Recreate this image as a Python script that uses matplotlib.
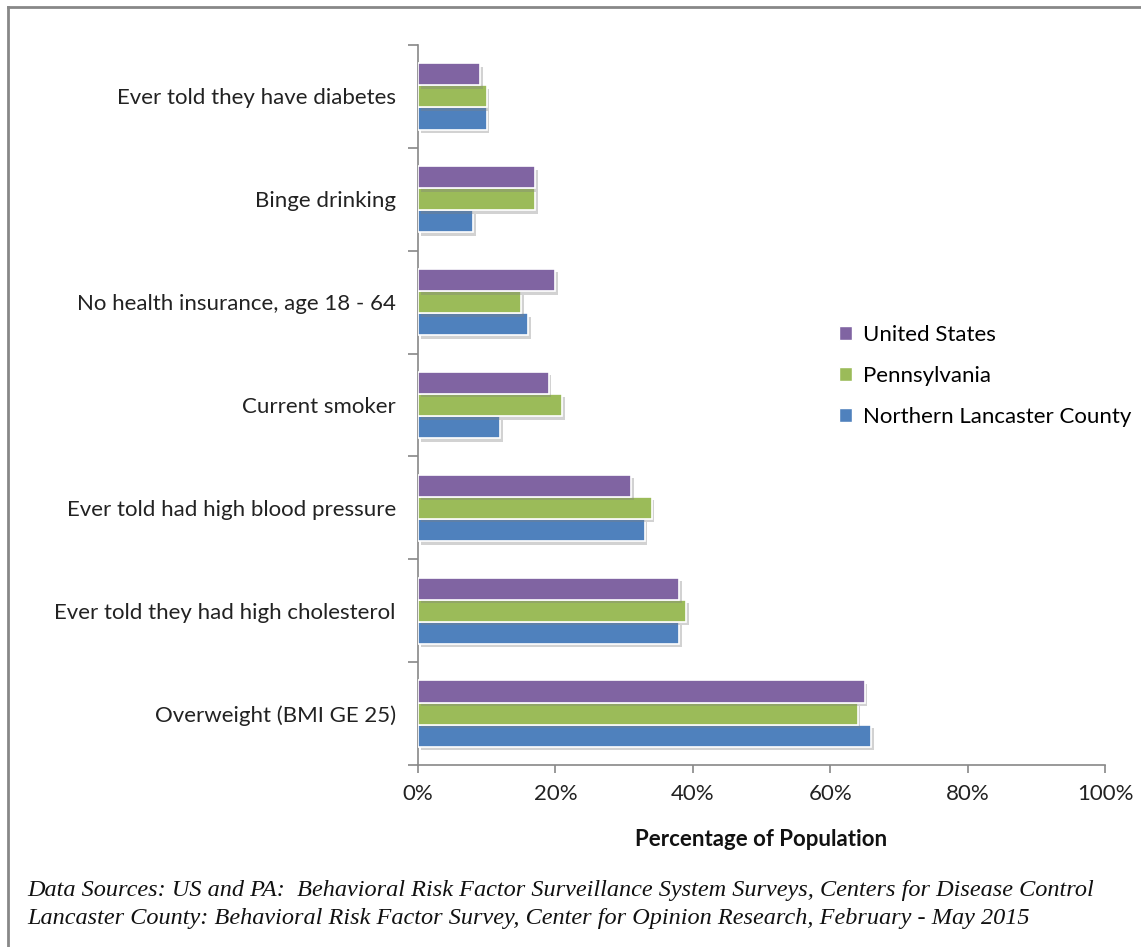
import matplotlib
matplotlib.use("Agg")
import matplotlib.pyplot as plt
import matplotlib.patheffects as pe
from matplotlib.lines import Line2D
from matplotlib.patches import Patch
import numpy as np

categories = ["Overweight (BMI GE 25)", "Ever told they had high cholesterol",
              "Ever told had high blood pressure", "Current smoker",
              "No health insurance, age 18 - 64", "Binge drinking",
              "Ever told they have diabetes"]
series_names = ["Northern Lancaster County", "Pennsylvania", "United States"]
nlc = [66, 38, 33, 12, 16, 8, 10]
pa = [64, 39, 34, 21, 15, 17, 10]
us = [65, 38, 31, 19, 20, 17, 9]
colors = ["#4f81bd", "#9bbb59", "#8064a2"]
xticks = [0, 20, 40, 60, 80, 100]

W, H = 1141, 947
fig = plt.figure(figsize=(W / 100, H / 100), dpi=100)
ax = fig.add_axes([418 / W, 1 - 765 / H, (1105 - 418) / W, (765 - 45) / H])

y = np.arange(len(categories))
bh = 0.215
shadow = [pe.SimplePatchShadow(offset=(2, -2.5), shadow_rgbFace="#7f7f7f", alpha=0.35), pe.Normal()]
for i, (vals, c) in enumerate(zip([nlc, pa, us], colors)):
    bars = ax.barh(y + (i - 1) * bh, vals, height=bh, color=c, edgecolor="white",
                   linewidth=1.2, zorder=3)
    for b in bars:
        b.set_path_effects(shadow)

ax.set_xlim(0, 100)
ax.set_ylim(-0.5, len(categories) - 0.5)
ax.set_xticks(xticks)
ax.set_xticklabels([f"{v}%" for v in xticks], fontsize=16, family="Lato", color="#222222")
ax.set_yticks(y)
ax.set_yticklabels(categories, fontsize=16, family="Lato", color="#222222")
ax.set_yticks(np.arange(len(categories) + 1) - 0.5, minor=True)
ax.tick_params(axis="y", which="major", length=0, pad=16)
ax.tick_params(axis="y", which="minor", length=7, color="#888888", width=1.2)
ax.tick_params(axis="x", which="major", length=6, color="#888888", width=1.2, pad=8)
for s in ["top", "right"]:
    ax.spines[s].set_visible(False)
for s in ["left", "bottom"]:
    ax.spines[s].set_color("#888888")
    ax.spines[s].set_linewidth(1.2)

ax.set_xlabel("Percentage of Population", fontsize=16, family="Lato", fontweight="bold",
              labelpad=18, color="#111111")

handles = [Patch(facecolor=colors[i], edgecolor="white") for i in [2, 1, 0]]
labels = [series_names[i] for i in [2, 1, 0]]
leg = fig.legend(handles, labels, loc="center left", bbox_to_anchor=(819 / W, 1 - 376 / H),
                 frameon=False, prop={"family": "Lato", "size": 16}, handlelength=0.6,
                 handleheight=0.6, handletextpad=0.5, labelspacing=0.95)

fig.text(27 / W, 1 - 890 / H,
         "Data Sources: US and PA:  Behavioral Risk Factor Surveillance System Surveys, Centers for Disease Control",
         fontsize=17.5, family="Liberation Serif", style="italic", va="center", color="#111111")
fig.text(27 / W, 1 - 918 / H,
         "Lancaster County: Behavioral Risk Factor Survey, Center for Opinion Research, February - May 2015",
         fontsize=17.5, family="Liberation Serif", style="italic", va="center", color="#111111")

fig.add_artist(Line2D([7.5 / W, 7.5 / W], [0, 1 - 7.5 / H], color="#888888", lw=2))
fig.add_artist(Line2D([7.5 / W, 1], [1 - 7.5 / H, 1 - 7.5 / H], color="#888888", lw=2))

fig.savefig("out.png", dpi=100)
